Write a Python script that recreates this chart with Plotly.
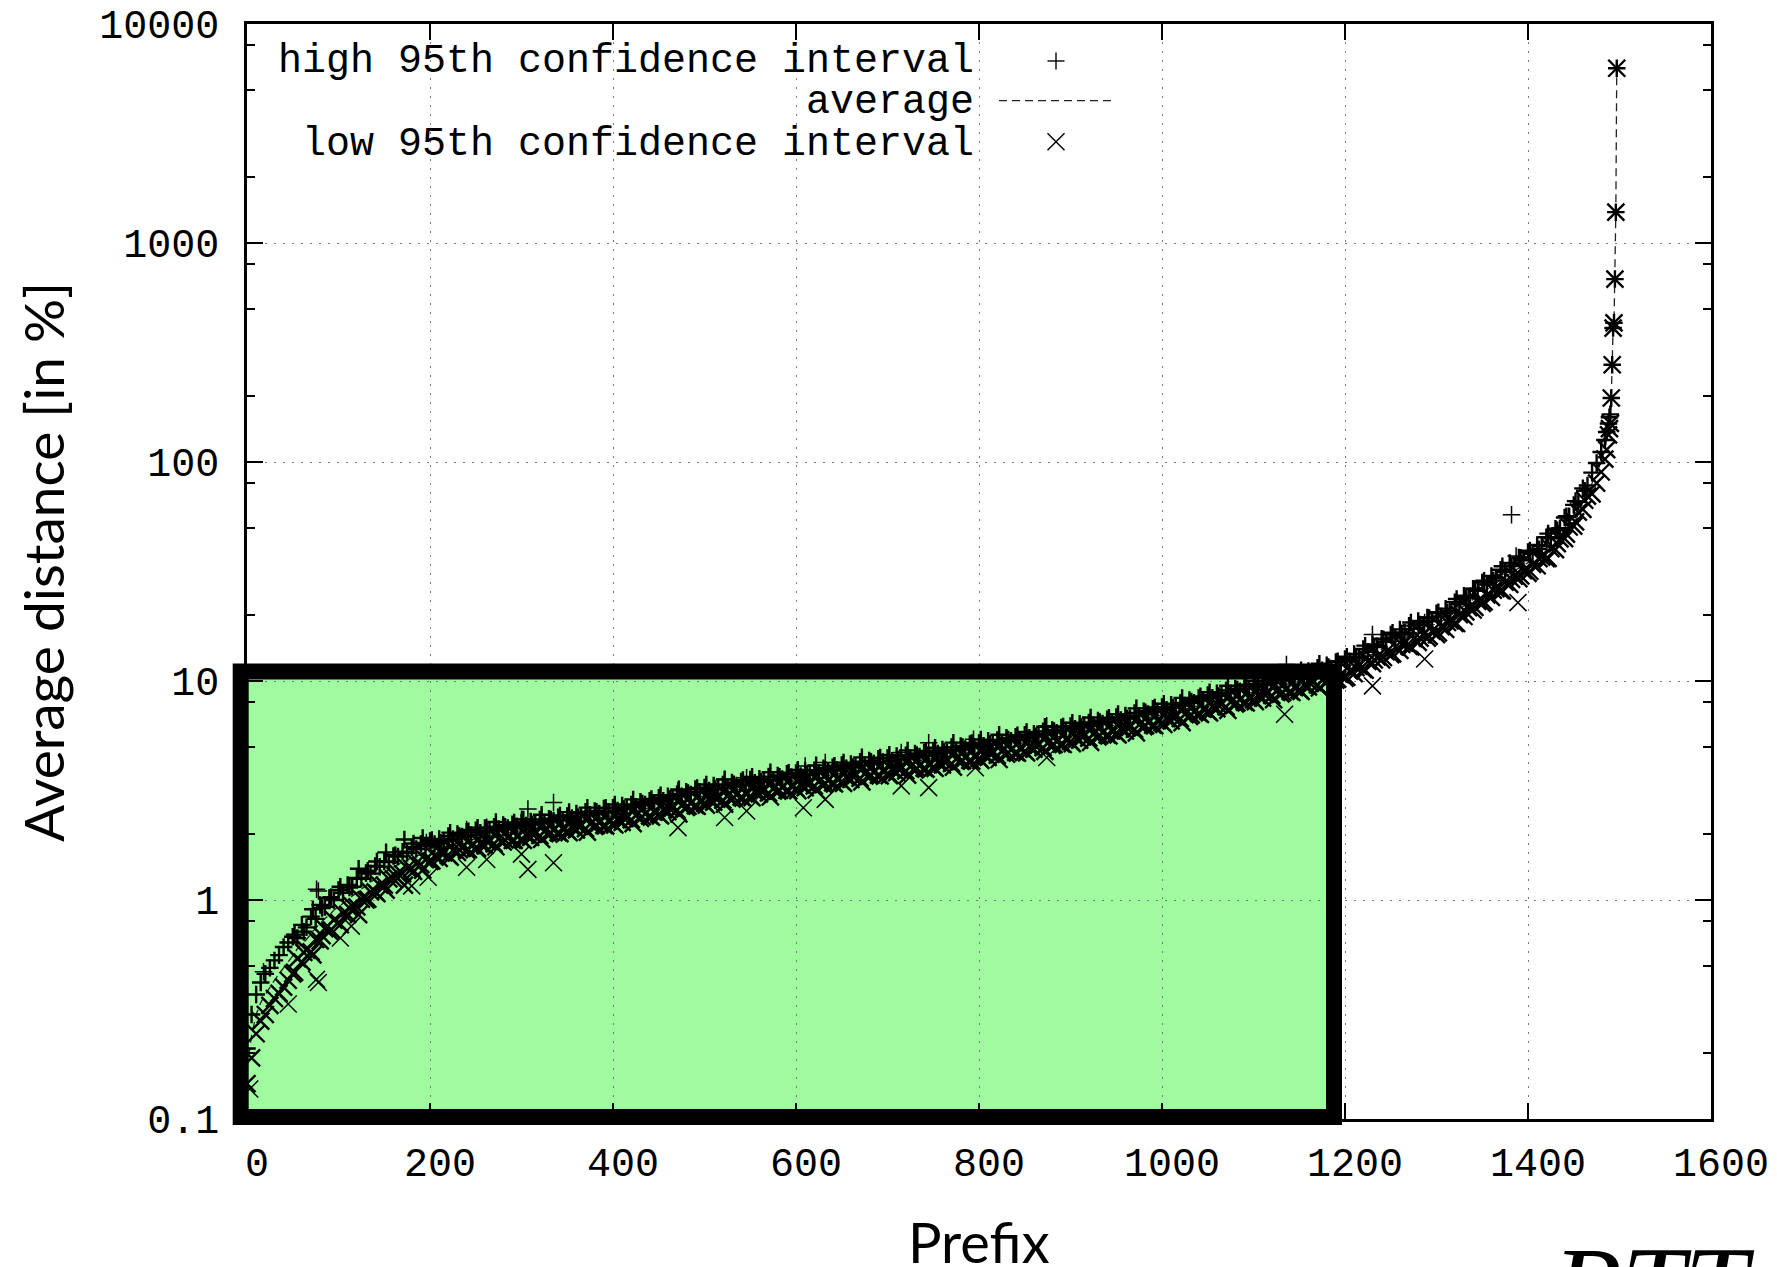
import plotly.graph_objects as go

# ---------------- data ----------------
# main reading of the sorted curve
prefix = [0, 5, 10, 15, 20, 25, 30, 35, 40, 45, 50,
          60, 70, 80, 90, 100, 110, 120, 130, 140, 150, 160, 170, 180, 190,
          200, 210, 220, 230, 240, 250, 260, 270, 280, 290,
          300, 310, 320, 330, 340, 350, 360, 370, 380, 390,
          400, 410, 420, 430, 440, 450, 460, 470, 480, 490,
          500, 510, 520, 530, 540, 550, 560, 570, 580, 590,
          600, 610, 620, 630, 640, 650, 660, 670, 680, 690,
          700, 710, 720, 730, 740, 750, 760, 770, 780, 790,
          800, 810, 820, 830, 840, 850, 860, 870, 880, 890,
          900, 910, 920, 930, 940, 950, 960, 970, 980, 990,
          1000, 1010, 1020, 1030, 1040, 1050, 1060, 1070, 1080, 1090,
          1100, 1110, 1120, 1130, 1140, 1150, 1160, 1170, 1180, 1190,
          1200, 1210, 1220, 1230, 1240, 1250, 1260, 1270, 1280, 1290,
          1300, 1310, 1320, 1330, 1340, 1350, 1360, 1370, 1380, 1390,
          1400, 1410, 1420, 1430, 1440, 1450, 1460, 1470, 1475, 1480,
          1484, 1486, 1488, 1489, 1490, 1491, 1492, 1493, 1494, 1495, 1496, 1497]

average = [0.17, 0.24, 0.30, 0.34, 0.37, 0.40, 0.43, 0.46, 0.49, 0.52, 0.56,
           0.63, 0.70, 0.79, 0.86, 0.93, 1.00, 1.08, 1.16, 1.25, 1.33, 1.41, 1.49, 1.56, 1.62,
           1.67, 1.72, 1.77, 1.82, 1.86, 1.90, 1.94, 1.98, 2.01, 2.04,
           2.07, 2.10, 2.14, 2.17, 2.20, 2.24, 2.27, 2.31, 2.35, 2.39,
           2.43, 2.47, 2.52, 2.57, 2.62, 2.68, 2.74, 2.80, 2.87, 2.94,
           3.00, 3.05, 3.10, 3.15, 3.20, 3.25, 3.30, 3.35, 3.40, 3.45,
           3.50, 3.55, 3.60, 3.66, 3.72, 3.78, 3.85, 3.92, 3.99, 4.05,
           4.10, 4.16, 4.22, 4.28, 4.34, 4.41, 4.49, 4.57, 4.65, 4.72,
           4.80, 4.88, 4.96, 5.04, 5.12, 5.20, 5.30, 5.40, 5.50, 5.62,
           5.74, 5.85, 5.95, 6.05, 6.15, 6.28, 6.40, 6.55, 6.70, 6.85,
           7.00, 7.15, 7.30, 7.50, 7.70, 7.90, 8.10, 8.30, 8.50, 8.70,
           8.90, 9.10, 9.30, 9.50, 9.70, 9.90, 10.2, 10.5, 10.8, 11.1,
           11.4, 12.0, 12.6, 13.3, 14.0, 14.7, 15.4, 16.1, 16.8, 17.5,
           18.2, 19.2, 20.5, 22.0, 23.6, 25.3, 27.0, 28.9, 30.9, 32.8,
           34.7, 37.5, 40.5, 44.5, 50.0, 57.0, 68.0, 80.0, 89.0, 100.0,
           114, 125, 141, 151, 156, 196, 278, 409, 432, 684, 1383, 6280]

high_ci = [0.21, 0.30, 0.37, 0.42, 0.46, 0.49, 0.53, 0.56, 0.61, 0.64, 0.68,
           0.77, 0.84, 0.95, 1.02, 1.11, 1.17, 1.26, 1.33, 1.43, 1.50, 1.59, 1.66, 1.74, 1.80,
           1.86, 1.90, 1.96, 2.00, 2.05, 2.08, 2.13, 2.16, 2.20, 2.22,
           2.26, 2.28, 2.33, 2.35, 2.39, 2.42, 2.48, 2.53, 2.55, 2.62,
           2.64, 2.70, 2.73, 2.81, 2.84, 2.93, 2.98, 3.05, 3.12, 3.21,
           3.26, 3.33, 3.37, 3.44, 3.48, 3.55, 3.58, 3.66, 3.70, 3.77,
           3.80, 3.88, 3.91, 4.00, 4.04, 4.13, 4.18, 4.28, 4.33, 4.42,
           4.45, 4.54, 4.58, 4.67, 4.71, 4.81, 4.87, 4.99, 5.05, 5.15,
           5.21, 5.33, 5.38, 5.50, 5.56, 5.68, 5.75, 5.89, 5.97, 6.13,
           6.23, 6.38, 6.46, 6.60, 6.68, 6.85, 6.95, 7.14, 7.27, 7.47,
           7.60, 7.80, 7.93, 8.18, 8.36, 8.62, 8.80, 9.05, 9.23, 9.49,
           9.66, 9.93, 10.1, 10.4, 10.5, 10.8, 11.1, 11.5, 11.8, 12.2,
           12.6, 13.3, 14.0, 14.7, 15.6, 16.3, 17.2, 17.9, 18.8, 19.5,
           20.4, 21.4, 22.9, 24.5, 26.4, 28.2, 30.2, 32.2, 34.6, 36.6,
           38.8, 41.8, 45.3, 49.6, 55.8, 63.7, 75.8, 89.4, 99.0, 111,
           126, 137, 150, 160, 165, 196, 278, 409, 432, 684, 1383, 6280]

low_ci = [0.145, 0.19, 0.245, 0.28, 0.30, 0.33, 0.355, 0.375, 0.40, 0.43, 0.46,
          0.52, 0.58, 0.65, 0.72, 0.79, 0.86, 0.93, 1.00, 1.09, 1.17, 1.25, 1.32, 1.39, 1.45,
          1.50, 1.55, 1.60, 1.65, 1.69, 1.73, 1.77, 1.81, 1.84, 1.87,
          1.90, 1.93, 1.97, 2.00, 2.03, 2.07, 2.09, 2.12, 2.17, 2.19,
          2.24, 2.26, 2.33, 2.36, 2.42, 2.46, 2.53, 2.57, 2.65, 2.70,
          2.77, 2.80, 2.86, 2.89, 2.95, 2.98, 3.05, 3.08, 3.14, 3.17,
          3.23, 3.26, 3.32, 3.36, 3.43, 3.47, 3.55, 3.60, 3.68, 3.72,
          3.79, 3.82, 3.89, 3.93, 4.00, 4.05, 4.14, 4.20, 4.29, 4.34,
          4.43, 4.48, 4.58, 4.63, 4.72, 4.78, 4.89, 4.96, 5.08, 5.16,
          5.30, 5.37, 5.49, 5.56, 5.68, 5.77, 5.91, 6.02, 6.19, 6.29,
          6.46, 6.57, 6.74, 6.89, 7.11, 7.26, 7.48, 7.63, 7.85, 8.00,
          8.22, 8.36, 8.59, 8.73, 8.96, 9.10, 9.40, 9.60, 9.90, 10.1,
          10.3, 10.8, 11.3, 12.0, 12.5, 13.2, 13.8, 14.4, 15.0, 15.7,
          16.3, 17.2, 18.3, 19.7, 21.1, 22.6, 24.1, 25.9, 27.6, 29.3,
          31.0, 33.6, 36.2, 39.8, 44.7, 51.0, 60.8, 71.5, 80.0, 90.0,
          103, 114, 133, 142, 150, 196, 278, 409, 432, 684, 1383, 6280]

# second reading, between the prefixes above (points nearer the centre of the band)
prefix_b = [55, 65, 75, 85, 95, 105, 115, 125, 135, 145, 155, 165, 175, 185, 195,
            205, 215, 225, 235, 245, 255, 265, 275, 285, 295,
            305, 315, 325, 335, 345, 355, 365, 375, 385, 395,
            405, 415, 425, 435, 445, 455, 465, 475, 485, 495,
            505, 515, 525, 535, 545, 555, 565, 575, 585, 595,
            605, 615, 625, 635, 645, 655, 665, 675, 685, 695,
            705, 715, 725, 735, 745, 755, 765, 775, 785, 795,
            805, 815, 825, 835, 845, 855, 865, 875, 885, 895,
            905, 915, 925, 935, 945, 955, 965, 975, 985, 995,
            1005, 1015, 1025, 1035, 1045, 1055, 1065, 1075, 1085, 1095,
            1105, 1115, 1125, 1135, 1145, 1155, 1165, 1175, 1185, 1195,
            1205, 1215, 1225, 1235, 1245, 1255, 1265, 1275, 1285, 1295,
            1305, 1315, 1325, 1335, 1345, 1355, 1365, 1375, 1385, 1395,
            1405, 1415, 1425, 1435, 1445, 1455, 1465]
average_b = [0.60, 0.66, 0.74, 0.82, 0.90, 0.96, 1.04, 1.12, 1.20, 1.29, 1.37, 1.45, 1.52, 1.59, 1.65,
             1.70, 1.75, 1.80, 1.84, 1.88, 1.92, 1.96, 2.00, 2.03, 2.06,
             2.09, 2.12, 2.16, 2.19, 2.22, 2.26, 2.29, 2.33, 2.37, 2.41,
             2.45, 2.50, 2.55, 2.60, 2.65, 2.71, 2.77, 2.84, 2.90, 2.97,
             3.02, 3.07, 3.12, 3.17, 3.22, 3.27, 3.32, 3.37, 3.42, 3.47,
             3.52, 3.57, 3.63, 3.69, 3.75, 3.81, 3.88, 3.95, 4.02, 4.07,
             4.13, 4.19, 4.25, 4.31, 4.37, 4.45, 4.53, 4.61, 4.68, 4.76,
             4.84, 4.92, 5.00, 5.08, 5.16, 5.25, 5.35, 5.45, 5.56, 5.68,
             5.80, 5.90, 6.00, 6.10, 6.21, 6.34, 6.47, 6.62, 6.77, 6.92,
             7.07, 7.22, 7.40, 7.60, 7.80, 8.00, 8.20, 8.40, 8.60, 8.80,
             9.00, 9.20, 9.40, 9.60, 9.80, 10.05, 10.35, 10.65, 10.95, 11.25,
             11.7, 12.3, 12.95, 13.65, 14.35, 15.05, 15.75, 16.45, 17.15, 17.85,
             18.7, 19.85, 21.25, 22.8, 24.45, 26.15, 27.95, 29.9, 31.85, 33.75,
             36.1, 39.0, 42.5, 47.2, 53.5, 62.5, 74.0]
high_b = [0.67, 0.75, 0.82, 0.93, 1.00, 1.08, 1.15, 1.25, 1.32, 1.42, 1.49, 1.58, 1.64, 1.71, 1.76,
          1.80, 1.86, 1.90, 1.95, 1.98, 2.03, 2.06, 2.11, 2.13, 2.17,
          2.19, 2.23, 2.26, 2.30, 2.32, 2.37, 2.40, 2.45, 2.48, 2.53,
          2.56, 2.62, 2.66, 2.73, 2.77, 2.84, 2.90, 2.98, 3.03, 3.11,
          3.16, 3.22, 3.26, 3.33, 3.37, 3.43, 3.47, 3.53, 3.57, 3.64,
          3.68, 3.74, 3.79, 3.87, 3.92, 4.00, 4.06, 4.14, 4.20, 4.27,
          4.32, 4.39, 4.44, 4.52, 4.57, 4.66, 4.73, 4.83, 4.89, 4.99,
          5.06, 5.16, 5.23, 5.33, 5.39, 5.50, 5.59, 5.71, 5.81, 5.95,
          6.06, 6.18, 6.27, 6.39, 6.49, 6.64, 6.76, 6.93, 7.07, 7.25,
          7.39, 7.56, 7.73, 7.96, 8.15, 8.38, 8.57, 8.80, 8.99, 9.22,
          9.41, 9.64, 9.82, 10.1, 10.2, 10.5, 10.8, 11.2, 11.4, 11.8,
          12.3, 12.9, 13.6, 14.4, 15.1, 15.8, 16.6, 17.3, 18.0, 18.8,
          19.7, 20.9, 22.4, 24.0, 25.8, 27.6, 29.5, 31.5, 33.6, 35.6,
          38.1, 41.2, 44.8, 49.8, 56.5, 66.0, 78.1]
low_b = [0.54, 0.59, 0.66, 0.74, 0.81, 0.87, 0.94, 1.01, 1.09, 1.17, 1.25, 1.32, 1.40, 1.47, 1.53,
         1.59, 1.64, 1.69, 1.73, 1.77, 1.81, 1.85, 1.89, 1.92, 1.95,
         1.98, 2.01, 2.05, 2.08, 2.11, 2.15, 2.18, 2.22, 2.25, 2.29,
         2.33, 2.38, 2.43, 2.47, 2.52, 2.58, 2.63, 2.70, 2.76, 2.83,
         2.87, 2.92, 2.97, 3.02, 3.06, 3.11, 3.16, 3.21, 3.26, 3.30,
         3.35, 3.40, 3.46, 3.51, 3.57, 3.63, 3.70, 3.76, 3.83, 3.88,
         3.93, 3.99, 4.05, 4.10, 4.16, 4.24, 4.31, 4.39, 4.46, 4.53,
         4.61, 4.68, 4.76, 4.84, 4.91, 5.00, 5.09, 5.19, 5.29, 5.41,
         5.52, 5.62, 5.71, 5.81, 5.91, 6.04, 6.16, 6.30, 6.45, 6.59,
         6.73, 6.87, 7.04, 7.23, 7.43, 7.62, 7.81, 8.00, 8.19, 8.38,
         8.57, 8.76, 8.95, 9.14, 9.33, 9.57, 9.86, 10.1, 10.4, 10.7,
         11.1, 11.7, 12.3, 12.9, 13.6, 14.3, 14.9, 15.6, 16.3, 16.9,
         17.7, 18.8, 20.1, 21.6, 23.1, 24.7, 26.4, 28.3, 30.1, 31.9,
         34.1, 36.8, 40.2, 44.6, 50.5, 59.0, 69.9]

# third reading (points scattered across the full width of the band)
prefix_c = [52, 62, 72, 82, 92, 102, 112, 122, 132, 142, 152, 162, 172, 182, 192,
            202, 212, 222, 232, 242, 252, 262, 272, 282, 292,
            302, 312, 322, 332, 342, 352, 362, 372, 382, 392,
            402, 412, 422, 432, 442, 452, 462, 472, 482, 492,
            502, 512, 522, 532, 542, 552, 562, 572, 582, 592,
            602, 612, 622, 632, 642, 652, 662, 672, 682, 692,
            702, 712, 722, 732, 742, 752, 762, 772, 782, 792,
            802, 812, 822, 832, 842, 852, 862, 872, 882, 892,
            902, 912, 922, 932, 942, 952, 962, 972, 982, 992,
            1002, 1012, 1022, 1032, 1042, 1052, 1062, 1072, 1082, 1092,
            1102, 1112, 1122, 1132, 1142, 1152, 1162, 1172, 1182, 1192,
            1202, 1212, 1222, 1232, 1242, 1252, 1262, 1272, 1282, 1292,
            1302, 1312, 1322, 1332, 1342, 1352, 1362, 1372, 1382, 1392,
            1402, 1412, 1422, 1432, 1442, 1452, 1462]
average_c = [0.57, 0.64, 0.72, 0.80, 0.87, 0.94, 1.02, 1.10, 1.18, 1.27, 1.35, 1.43, 1.50, 1.57, 1.63,
             1.68, 1.73, 1.78, 1.83, 1.87, 1.91, 1.95, 1.99, 2.02, 2.05,
             2.08, 2.11, 2.15, 2.18, 2.21, 2.25, 2.28, 2.32, 2.36, 2.40,
             2.44, 2.48, 2.53, 2.58, 2.63, 2.69, 2.75, 2.81, 2.88, 2.95,
             3.01, 3.06, 3.11, 3.16, 3.21, 3.26, 3.31, 3.36, 3.41, 3.46,
             3.51, 3.56, 3.61, 3.67, 3.73, 3.79, 3.86, 3.93, 4.00, 4.06,
             4.11, 4.17, 4.23, 4.29, 4.35, 4.43, 4.51, 4.59, 4.66, 4.74,
             4.82, 4.90, 4.98, 5.06, 5.14, 5.22, 5.32, 5.42, 5.52, 5.64,
             5.76, 5.87, 5.97, 6.07, 6.18, 6.30, 6.43, 6.58, 6.73, 6.88,
             7.03, 7.18, 7.34, 7.54, 7.74, 7.94, 8.14, 8.34, 8.54, 8.74,
             8.94, 9.14, 9.34, 9.54, 9.74, 9.96, 10.26, 10.56, 10.86, 11.16,
             11.5, 12.1, 12.7, 13.4, 14.1, 14.8, 15.5, 16.2, 16.9, 17.6,
             18.4, 19.5, 20.8, 22.3, 23.9, 25.6, 27.4, 29.3, 31.3, 33.2,
             35.2, 38.1, 41.3, 45.6, 51.4, 59.2, 70.4]
high_c = [0.695, 0.717, 0.907, 0.92, 1.03, 1.15, 1.14, 1.39, 1.36, 1.50, 1.65, 1.60, 1.89, 1.81, 1.92,
          1.88, 1.82, 2.03, 1.96, 2.06, 2.14, 2.05, 2.27, 2.16, 2.26,
          2.33, 2.22, 2.45, 2.33, 2.43, 2.52, 2.39, 2.64, 2.53, 2.64,
          2.73, 2.60, 2.88, 2.76, 2.89, 3.01, 2.89, 3.20, 3.08, 3.25,
          3.37, 3.21, 3.55, 3.38, 3.53, 3.65, 3.48, 3.83, 3.65, 3.81,
          3.93, 3.74, 4.12, 3.93, 4.10, 4.24, 4.05, 4.48, 4.28, 4.47,
          4.60, 4.38, 4.82, 4.59, 4.79, 4.96, 4.74, 5.23, 4.99, 5.21,
          5.40, 5.15, 5.68, 5.41, 5.65, 5.85, 5.59, 6.18, 5.91, 6.20,
          6.45, 6.16, 6.81, 6.49, 6.80, 7.06, 6.75, 7.50, 7.20, 7.57,
          7.87, 7.54, 8.37, 8.07, 8.51, 8.89, 8.55, 9.51, 9.14, 9.61,
          10.0, 9.60, 10.6, 10.2, 10.7, 11.2, 10.8, 12.0, 11.6, 12.3,
          12.9, 12.7, 14.5, 14.3, 15.5, 16.6, 16.3, 18.5, 18.1, 19.4,
          20.6, 20.5, 23.7, 23.9, 26.3, 28.7, 28.8, 33.4, 33.5, 36.5,
          39.4, 40.0, 47.1, 48.8, 56.5, 66.3, 73.9]
low_c = [0.467, 0.576, 0.562, 0.688, 0.731, 0.771, 0.918, 0.858, 1.01, 1.07, 1.11, 1.29, 1.17, 1.35, 1.37,
         1.51, 1.64, 1.57, 1.70, 1.70, 1.72, 1.85, 1.75, 1.88, 1.87,
         1.87, 2.00, 1.89, 2.03, 2.01, 2.03, 2.17, 2.04, 2.19, 2.18,
         2.20, 2.36, 2.23, 2.40, 2.39, 2.42, 2.61, 2.47, 2.68, 2.68,
         2.71, 2.91, 2.74, 2.94, 2.92, 2.93, 3.14, 2.96, 3.17, 3.15,
         3.16, 3.38, 3.18, 3.41, 3.39, 3.41, 3.67, 3.46, 3.72, 3.69,
         3.70, 3.96, 3.72, 3.99, 3.96, 3.99, 4.28, 4.04, 4.33, 4.31,
         4.34, 4.66, 4.38, 4.71, 4.68, 4.70, 5.05, 4.77, 5.13, 5.13,
         5.18, 5.58, 5.25, 5.65, 5.62, 5.67, 6.11, 5.79, 6.26, 6.26,
         6.33, 6.82, 6.46, 7.01, 7.04, 7.15, 7.73, 7.34, 7.94, 7.95,
         8.05, 8.68, 8.22, 8.87, 8.86, 8.96, 9.75, 9.29, 10.1, 10.2,
         10.4, 11.5, 11.2, 12.5, 12.8, 13.3, 14.7, 14.3, 15.7, 16.0,
         16.6, 18.5, 18.3, 20.7, 21.7, 23.0, 26.0, 25.8, 29.1, 30.2,
         31.7, 36.2, 36.3, 42.4, 46.8, 53.3, 66.9]

# isolated high / low confidence-interval points standing out of the band
high_out_x = [18, 76, 78, 196, 240, 262, 300, 307, 335, 471, 522, 546, 610, 632,
              715, 745, 794, 874, 1136, 1230, 1287, 1337, 1382, 1387]
high_out_v = [0.47, 1.12, 1.10, 1.83, 2.10, 2.15, 2.34, 2.60, 2.79, 3.15, 3.56, 3.62, 4.09, 4.24,
              4.71, 5.23, 5.42, 6.24, 11.9, 16.3, 18.5, 24.4, 57.5, 37.2]
low_out_x = [3, 45, 76, 78, 102, 114, 180, 198, 240, 262, 300, 307, 335, 471, 522, 546,
             608, 632, 715, 745, 796, 874, 1134, 1230, 1287, 1389]
low_out_v = [0.137, 0.335, 0.435, 0.42, 0.67, 0.76, 1.16, 1.27, 1.41, 1.53, 1.62, 1.38, 1.48, 2.14, 2.38, 2.55,
             2.64, 2.88, 3.32, 3.26, 4.02, 4.47, 7.05, 9.5, 12.6, 22.8]

x_ticks = [0, 200, 400, 600, 800, 1000, 1200, 1400, 1600]
y_ticks = [0.1, 1, 10, 100, 1000, 10000]
y_tick_text = ["0.1", "1", "10", "100", "1000", "10000"]
y_minor = [0.2, 0.5, 0.8, 2, 5, 8, 20, 50, 80, 200, 500, 800, 2000, 5000, 8000]

legend_labels = ["high 95th confidence interval", "average", "low 95th confidence interval"]

# highlighted region (overlay in the original slide)
highlight_x = [-7, 1188]
highlight_y = [0.102, 11.0]

# ---------------- figure ----------------
MONO = "Liberation Mono, Courier New, monospace"
TITLE_FONT = "Lato, Noto Sans, sans-serif"

# combine the readings in prefix order for the average line
avg_pairs = sorted(zip(prefix + prefix_b + prefix_c, average + average_b + average_c))
avg_x = [p for p, _ in avg_pairs]
avg_y = [v for _, v in avg_pairs]

band_x = prefix + prefix_b + prefix_c
band_high = high_ci + high_b + high_c
band_low = low_ci + low_b + low_c

fig = go.Figure()

fig.add_trace(go.Scatter(
    x=avg_x, y=avg_y, mode="lines",
    line=dict(color="#222222", width=1.3, dash="8px,5px"),
    hoverinfo="skip"))

# dense band of confidence-interval markers
fig.add_trace(go.Scatter(
    x=band_x, y=band_high, mode="markers",
    marker=dict(symbol="cross-thin", size=12.5, color="black",
                line=dict(color="black", width=2.4)),
    hoverinfo="skip"))
fig.add_trace(go.Scatter(
    x=band_x, y=band_low, mode="markers",
    marker=dict(symbol="x-thin", size=17, color="black",
                line=dict(color="black", width=2.4)),
    hoverinfo="skip"))
# isolated points
fig.add_trace(go.Scatter(
    x=high_out_x, y=high_out_v, mode="markers",
    marker=dict(symbol="cross-thin", size=12.5, color="black",
                line=dict(color="black", width=1.5)),
    hoverinfo="skip"))
fig.add_trace(go.Scatter(
    x=low_out_x, y=low_out_v, mode="markers",
    marker=dict(symbol="x-thin", size=17, color="black",
                line=dict(color="black", width=1.5)),
    hoverinfo="skip"))

# page geometry (the page adds an 8px body margin around the figure)
OFF = 8
PL, PT, PR, PB = 247, 24, 1711, 1119          # plot area in page pixels
W, H = 1777 - OFF, 1267 - OFF
L, T = PL - OFF, PT - OFF
R, B = W - (PR - OFF), H - (PB - OFF)
pw, ph = PR - PL, PB - PT


def px_x(p):
    return (p - PL) / pw


def px_y(p):
    return (PB - p) / ph


shapes = []
# green highlight (data coordinates, below grid)
shapes.append(dict(type="rect", xref="x", yref="y", layer="below",
                   x0=highlight_x[0], x1=highlight_x[1],
                   y0=highlight_y[0], y1=highlight_y[1],
                   fillcolor="#a0faa0", line=dict(width=0)))
# white key box hiding the grid behind the key
shapes.append(dict(type="rect", xref="paper", yref="paper", layer="between",
                   x0=0, x1=px_x(1125), y0=px_y(160), y1=1,
                   fillcolor="white", line=dict(width=0)))
# thick black frame of the highlight
shapes.append(dict(type="rect", xref="paper", yref="paper", layer="above",
                   x0=px_x(240.7), x1=px_x(1334), y0=px_y(1117), y1=px_y(671.5),
                   fillcolor="rgba(0,0,0,0)", line=dict(color="black", width=16)))

# key samples
cx = 1056
hx, hy = 8.5, 8.5
for cy, kind in [(61, "plus"), (141.7, "x")]:
    if kind == "plus":
        segs = [((cx - hx, cy), (cx + hx, cy)), ((cx, cy - hy), (cx, cy + hy))]
    else:
        segs = [((cx - hx, cy - hy), (cx + hx, cy + hy)), ((cx - hx, cy + hy), (cx + hx, cy - hy))]
    for (a, b) in segs:
        shapes.append(dict(type="line", xref="paper", yref="paper", layer="above",
                           x0=px_x(a[0]), y0=px_y(a[1]), x1=px_x(b[0]), y1=px_y(b[1]),
                           line=dict(color="black", width=1.4)))
shapes.append(dict(type="line", xref="paper", yref="paper", layer="above",
                   x0=px_x(999), x1=px_x(1113), y0=px_y(100.7), y1=px_y(100.7),
                   line=dict(color="#222222", width=1.2, dash="8px,5px")))

annotations = []
for lab, yc in zip(legend_labels, [61.5, 103, 144.5]):
    annotations.append(dict(text=lab, xref="paper", yref="paper",
                            x=px_x(976), y=px_y(yc), xanchor="right", yanchor="middle",
                            showarrow=False, font=dict(family=MONO, size=40, color="black")))

annotations.append(dict(text="Average distance [in %]", xref="paper", yref="paper",
                        x=px_x(43), y=px_y(562), xanchor="center", yanchor="middle",
                        textangle=-90, showarrow=False,
                        font=dict(family=TITLE_FONT, size=55, color="black")))
annotations.append(dict(text="Prefix", xref="paper", yref="paper",
                        x=0.5, y=px_y(1241), xanchor="center", yanchor="middle",
                        showarrow=False,
                        font=dict(family=TITLE_FONT, size=56, color="black")))
annotations.append(dict(text="<i>RTT</i>", xref="paper", yref="paper",
                        x=px_x(1550), y=px_y(1221), xanchor="left", yanchor="top",
                        showarrow=False,
                        font=dict(family="Liberation Serif, serif", size=113, color="black")))

fig.update_layout(
    width=W, height=H, autosize=False,
    margin=dict(l=L, r=R, t=T, b=B, pad=0),
    paper_bgcolor="white", plot_bgcolor="rgba(0,0,0,0)",
    showlegend=False,
    shapes=shapes, annotations=annotations,
)

fig.update_xaxes(
    range=[0, 1600], tickmode="array", tickvals=x_ticks,
    ticks="inside", ticklen=16, tickwidth=2, tickcolor="black",
    showline=True, linewidth=2.5, linecolor="black", mirror="ticks",
    showgrid=True, gridcolor="#7a7a7a", gridwidth=1, griddash="2px,7px",
    zeroline=False, ticklabelshift=10, ticklabelstandoff=6,
    ticklabeloverflow="allow", automargin=False,
    tickfont=dict(family=MONO, size=40, color="black"),
)
fig.update_yaxes(
    type="log", range=[-1, 4], tickmode="array", tickvals=y_ticks, ticktext=y_tick_text,
    ticks="inside", ticklen=16, tickwidth=2, tickcolor="black",
    minor=dict(tickmode="array", tickvals=y_minor, ticks="inside", ticklen=8,
               tickwidth=2, tickcolor="black", showgrid=False),
    showline=True, linewidth=2.5, linecolor="black", mirror="ticks",
    showgrid=True, gridcolor="#7a7a7a", gridwidth=1, griddash="2px,7px",
    zeroline=False, ticklabelstandoff=17, ticklabeloverflow="allow", automargin=False,
    tickfont=dict(family=MONO, size=40, color="black"),
)

fig.write_html("out.html")
